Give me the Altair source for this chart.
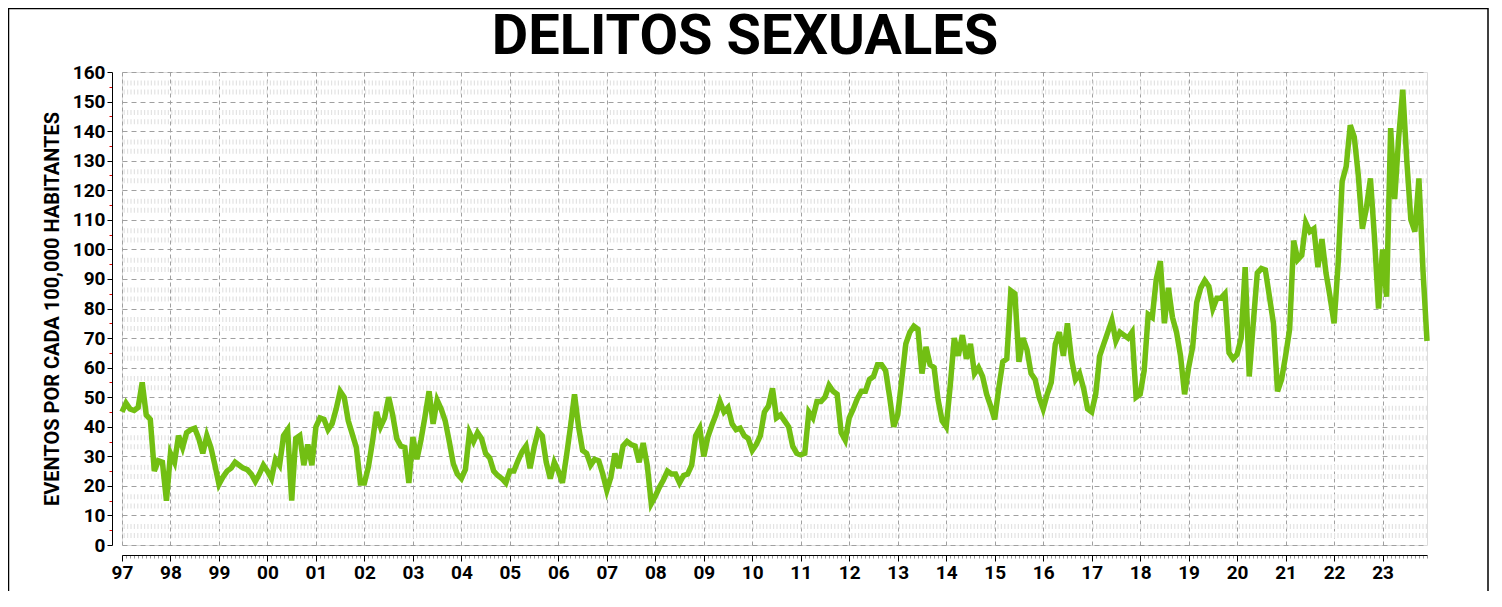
import altair as alt
import pandas as pd

# Monthly values (events per 100,000 inhabitants), Jan..Dec of each year
y1997 = [45, 48, 46, 45.5, 46.5, 55, 44, 42.5, 25, 28.5, 28, 15]
y1998 = [31, 28, 37, 33, 38, 39, 39.5, 36, 31, 37, 33, 27]
y1999 = [20.5, 23, 25, 26, 28, 27, 26, 25.5, 24, 21.5, 24, 27]
y2000 = [25, 22.5, 29, 27, 37, 39, 15, 36, 37, 27, 34, 27]
y2001 = [40, 43, 42.5, 39, 41, 46, 52, 50, 42, 37.5, 33, 21]
y2002 = [21, 26.5, 35, 45, 40, 43, 50, 44, 36, 33.5, 33, 21]
y2003 = [36.5, 29, 35.5, 43.5, 52, 41, 49, 46, 42, 35, 27.5, 24]
y2004 = [22.5, 25.5, 38, 35, 38, 36, 31, 29.5, 25, 23.5, 22.5, 21]
y2005 = [25, 25, 28.5, 31.5, 33.5, 26, 33, 38.5, 37, 28, 22.5, 28]
y2006 = [25, 21, 30, 40, 51, 40, 32, 31, 27, 29, 28.5, 24]
y2007 = [18.5, 23, 31, 26, 33.5, 35, 34, 33.5, 28, 34.5, 27, 14]
y2008 = [16.5, 19.5, 22, 25, 24, 24, 21, 23.5, 24, 27, 37, 39.5]
y2009 = [30, 36.5, 40.5, 44, 48.5, 45, 46.5, 41, 39, 39.5, 37, 36]
y2010 = [32, 34, 37, 45, 47, 53, 43, 44, 42, 40, 33.5, 31]
y2011 = [30.5, 31, 45, 43, 48.5, 48.5, 50, 54, 52, 51, 38, 35.5]
y2012 = [43, 46, 49.5, 52, 52, 56, 57, 61, 61, 59, 50, 40]
y2013 = [44, 56, 68, 72, 74, 73, 58, 67, 61, 60, 49, 42]
y2014 = [40, 54, 70, 64, 71, 63, 68, 58, 60, 57, 51, 47]
y2015 = [42.5, 53, 62, 63, 86, 85, 62, 70, 66, 58, 56, 50]
y2016 = [46, 51, 55, 68, 72, 64, 75, 63, 56, 58, 53, 46]
y2017 = [45, 51, 64, 68, 72, 76, 69, 72, 71, 70, 72, 50]
y2018 = [51, 59, 78, 77, 90, 96, 75, 87, 77, 72, 64, 51]
y2019 = [60, 67, 82, 87, 89.5, 87.5, 80, 83.5, 83.5, 85, 65, 63]
y2020 = [64.5, 70, 94, 57, 75, 92, 93.5, 93, 84, 75, 52, 56]
y2021 = [64, 73, 103, 96.5, 98, 109, 106, 107, 94, 103.5, 92, 84]
y2022 = [75, 95, 123, 128, 142, 138, 125, 107, 114, 124, 104, 80]
y2023 = [100, 84, 141, 117, 138, 154, 130, 110, 106, 124, 93, 69]

years = list(range(1997, 2024))
series = [y1997, y1998, y1999, y2000, y2001, y2002, y2003, y2004, y2005,
          y2006, y2007, y2008, y2009, y2010, y2011, y2012, y2013, y2014,
          y2015, y2016, y2017, y2018, y2019, y2020, y2021, y2022, y2023]

y_ticks = list(range(0, 161, 10))
y_minor = list(range(5, 160, 10))

title_text = "DELITOS SEXUALES"
y_title = "EVENTOS POR CADA 100,000 HABITANTES"

rows = []
for yr, vals in zip(years, series):
    for m, v in enumerate(vals):
        rows.append({"t": yr + m / 12, "v": v})
df = pd.DataFrame(rows)

x_minor = [yr + m / 12 for yr in years for m in range(12)]
xscale = alt.Scale(domain=[1997, 2023 + 11 / 12], nice=False, zero=False)
yscale = alt.Scale(domain=[0, 160], nice=False, zero=True)

# background grid texture (fine vertical dashes, two rows per band)
tex_vals = [b + 3.2 for b in range(0, 160, 10)] + [b + 6.3 for b in range(0, 160, 10)]
texture = alt.Chart(pd.DataFrame({"g": tex_vals})).mark_rule(
    strokeDash=[1.2, 2.2], strokeWidth=5, color="#e3e3e3"
).encode(y=alt.Y("g:Q", scale=yscale, axis=None))

frame = alt.Chart(pd.DataFrame({"a": [0]})).mark_rect(
    fillOpacity=0, stroke="black", strokeWidth=1.5, clip=False
).encode(x=alt.value(-113.5), x2=alt.value(1366), y=alt.value(-63.5), y2=alt.value(600))

title = alt.Chart(pd.DataFrame({"a": [0]})).mark_text(
    text=title_text, font="Roboto", fontSize=56, fontWeight="bold",
    color="black", align="center", baseline="alphabetic"
).encode(x=alt.value(623), y=alt.value(-18))

minor = alt.Chart(df).mark_line(opacity=0).encode(
    x=alt.X("t:Q", scale=xscale, axis=alt.Axis(
        values=x_minor, labels=False, ticks=True, tickSize=3, tickColor="#999",
        domain=False, grid=False, offset=10, orient="bottom", title=None)),
    y=alt.Y("v:Q", scale=yscale, axis=alt.Axis(
        values=y_minor, labels=False, ticks=True, tickSize=3, tickColor="#e00000",
        domain=False, grid=False, offset=10, orient="left", title=None)),
)

line = alt.Chart(df).mark_line(color="#72bf13", strokeWidth=5.5).encode(
    x=alt.X("t:Q", scale=xscale, axis=alt.Axis(
        values=years, labelExpr="slice(toString(datum.value), 2)",
        grid=True, gridDash=[4, 3], gridColor="#a0a0a0", gridWidth=1,
        domainColor="black", tickColor="black", tickSize=6, labelFlush=False,
        labelFont="Roboto", labelFontWeight="bold", labelFontSize=19,
        labelColor="black", labelPadding=2, offset=10, orient="bottom", title=None)),
    y=alt.Y("v:Q", scale=yscale, axis=alt.Axis(
        values=y_ticks, grid=True, gridDash=[5, 4], gridColor="#a0a0a0", gridWidth=1,
        domainColor="black", tickColor="black", tickSize=5, labelFlush=False,
        labelFont="Roboto", labelFontWeight="bold", labelFontSize=19,
        labelColor="black", labelPadding=2, offset=10, orient="left",
        title=y_title, titleFont="Roboto",
        titleFontSize=20, titleFontWeight="bold", titleColor="black",
        titlePadding=10)),
)

chart = alt.layer(texture, frame, title, minor, line).resolve_axis(
    x="independent", y="independent"
).properties(
    width=1305,
    height=473,
    autosize=alt.AutoSizeParams(type="none"),
    padding={"left": 114, "top": 64, "right": 63, "bottom": 46},
).configure_view(stroke="transparent").configure(background="white")

chart.save("out.html", embed_options={"renderer": "svg", "actions": False})
